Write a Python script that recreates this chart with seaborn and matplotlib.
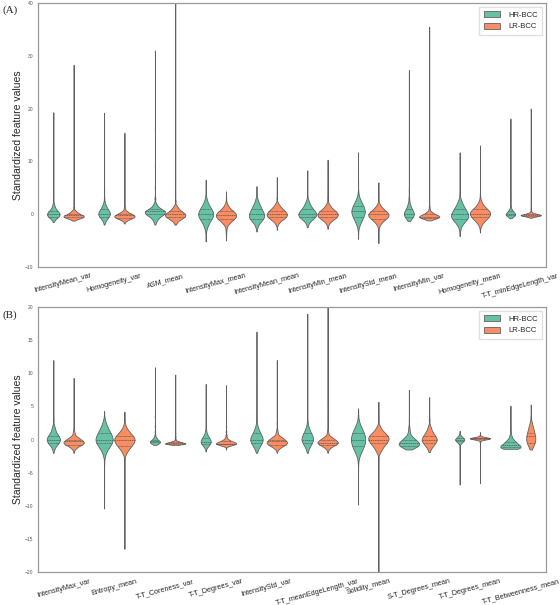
import numpy as np
import pandas as pd
import matplotlib
matplotlib.use("Agg")
import matplotlib.pyplot as plt
import seaborn as sns

# Panel (A) features
A_FEATURES = ["IntensityMean_var", "Homogeneity_var", "ASM_mean", "IntensityMax_mean",
              "IntensityMean_mean", "IntensityMin_mean", "IntensityStd_mean",
              "IntensityMin_var", "Homogeneity_mean", "T-T_minEdgeLength_var"]

# Panel (B) features
B_FEATURES = ["IntensityMax_var", "Entropy_mean", "T-T_Coreness_var", "T-T_Degrees_var",
              "IntensityStd_var", "T-T_meanEdgeLength_var", "Solidity_mean",
              "S-T_Degrees_mean", "T-T_Degrees_mean", "T-T_Betweenness_mean"]

GROUPS = ["HR-BCC", "LR-BCC"]

# standardized values (binned), with how many samples sit in each bin
A_HR_VALUES = [
    [-1.5, -1, -0.5, 0, 0.5, 1, 1.5, 2, 3, 4.5, 7, 11, 19.3],
    [-2, -1.5, -1, -0.5, 0, 0.5, 1, 1.5, 2, 3, 4.5, 7, 11, 19.2],
    [-2, -1.5, -1, -0.5, 0, 0.5, 1, 1.5, 2, 3, 5, 9, 16, 31],
    [-5.2, -4, -3, -2.5, -2, -1.5, -1, -0.5, 0, 0.5, 1, 1.5, 2, 2.5, 3, 4, 5, 6.5],
    [-3.3, -2.5, -2, -1.5, -1, -0.5, 0, 0.5, 1, 1.5, 2, 2.5, 3, 4, 5.3],
    [-2.5, -2, -1.5, -1, -0.5, 0, 0.5, 1, 1.5, 2, 2.5, 3.5, 5, 8.3],
    [-4.7, -3.5, -2.5, -2, -1.5, -1, -0.5, 0, 0.5, 1, 1.5, 2, 2.5, 3, 4, 6, 8.5, 11.7],
    [-1.3, -1, -0.5, 0, 0.5, 1, 1.5, 2, 3, 4.5, 7, 11, 17, 27.3],
    [-4.2, -3, -2.5, -2, -1.5, -1, -0.5, 0, 0.5, 1, 1.5, 2, 2.5, 3.5, 5, 8, 11.7],
    [-0.8, -0.5, -0.25, 0, 0.25, 0.5, 0.75, 1, 1.5, 2.5, 4, 6, 9, 13, 18.1],
]
A_HR_COUNTS = [
    [6, 32, 88, 112, 80, 40, 20, 12, 6, 3, 1, 1, 1],
    [3, 12, 32, 72, 96, 80, 48, 28, 16, 6, 3, 1, 1, 1],
    [3, 12, 24, 48, 88, 100, 56, 24, 12, 6, 2, 1, 1, 1],
    [1, 2, 6, 12, 20, 32, 48, 64, 72, 64, 48, 32, 20, 12, 6, 3, 2, 1],
    [1, 6, 12, 28, 56, 72, 64, 52, 40, 32, 20, 12, 6, 2, 1],
    [2, 6, 16, 40, 72, 80, 64, 44, 28, 20, 12, 4, 2, 1],
    [1, 2, 6, 16, 24, 36, 48, 60, 64, 60, 48, 36, 24, 16, 6, 2, 1, 1],
    [6, 24, 64, 80, 64, 40, 24, 16, 10, 5, 2, 1, 1, 1],
    [1, 3, 8, 16, 32, 56, 72, 64, 52, 40, 28, 20, 12, 5, 2, 1, 1],
    [12, 32, 56, 64, 48, 32, 20, 14, 10, 6, 3, 2, 1, 1, 1],
]
A_LR_VALUES = [
    [-1.25, -1, -0.75, -0.5, -0.25, 0, 0.25, 0.5, 0.75, 1.25, 2, 3.5, 6, 10, 16, 28.3],
    [-1.8, -1.25, -1, -0.75, -0.5, -0.25, 0, 0.25, 0.5, 1, 1.5, 2.5, 4, 7, 10, 15.4],
    [-2, -1.5, -1, -0.5, 0, 0.5, 1, 1.5, 2.5, 4, 8, 15, 25, 44],
    [-5, -4, -3, -2, -1.5, -1, -0.5, 0, 0.5, 1, 1.5, 2, 3, 4.3],
    [-3, -2, -1.5, -1, -0.5, 0, 0.5, 1, 1.5, 2, 3, 4, 5.5, 7],
    [-2.8, -2, -1.5, -1, -0.5, 0, 0.5, 1, 1.5, 2, 3, 5, 7.5, 10.3],
    [-5.5, -4, -3, -2, -1.5, -1, -0.5, 0, 0.5, 1, 1.5, 2, 3, 4.5, 6],
    [-1.2, -1, -0.75, -0.5, -0.25, 0, 0.25, 0.5, 1, 1.5, 2.5, 4, 7, 12, 20, 35.5],
    [-3.5, -2.5, -2, -1.5, -1, -0.5, 0, 0.5, 1, 1.5, 2, 2.5, 3.5, 5, 8, 13],
    [-0.7, -0.5, -0.375, -0.25, -0.125, 0, 0.125, 0.25, 0.5, 1, 2, 4, 8, 13, 20],
]
A_LR_COUNTS = [
    [8, 24, 56, 80, 72, 48, 32, 20, 12, 6, 3, 2, 1, 1, 1, 1],
    [2, 16, 32, 56, 72, 72, 48, 32, 20, 10, 5, 2, 1, 1, 1, 1],
    [6, 16, 48, 88, 96, 56, 32, 16, 5, 2, 1, 1, 1, 1],
    [1, 2, 6, 16, 32, 56, 80, 80, 56, 32, 16, 6, 2, 1],
    [1, 8, 20, 48, 72, 80, 64, 44, 24, 12, 4, 2, 1, 1],
    [1, 8, 20, 48, 72, 80, 64, 40, 20, 10, 4, 1, 1, 1],
    [1, 2, 4, 12, 24, 48, 72, 80, 56, 32, 16, 6, 2, 1, 1],
    [8, 24, 64, 88, 64, 40, 24, 16, 8, 4, 2, 1, 1, 1, 1, 1],
    [1, 3, 12, 24, 44, 64, 76, 72, 48, 28, 16, 8, 3, 1, 1, 1],
    [8, 24, 48, 72, 64, 40, 24, 16, 8, 4, 2, 1, 1, 1, 1],
]

B_HR_VALUES = [
    [-2, -1.5, -1, -0.5, 0, 0.5, 1, 1.5, 2, 3, 4.5, 6.5, 9, 12],
    [-10.4, -7, -5, -3.5, -2.5, -2, -1.5, -1, -0.5, 0, 0.5, 1, 1.5, 2, 2.5, 3, 4.3],
    [-0.8, -0.6, -0.4, -0.2, 0, 0.2, 0.4, 0.7, 1.2, 2, 3.5, 5.5, 8, 10.9],
    [-1.8, -1.2, -0.9, -0.6, -0.3, 0, 0.3, 0.6, 1, 1.5, 2.5, 4, 6, 8.4],
    [-2, -1.5, -1, -0.5, 0, 0.5, 1, 1.5, 2, 3, 4.5, 7, 11, 16.3],
    [-2, -1.5, -1, -0.5, 0, 0.5, 1, 1.5, 2, 3, 5, 8, 13, 19],
    [-9.8, -7, -5, -3.5, -2.5, -2, -1.5, -1, -0.5, 0, 0.5, 1, 1.5, 2, 2.5, 3.5, 4.7],
    [-1.5, -1.25, -1, -0.75, -0.5, -0.25, 0, 0.25, 0.5, 1, 1.5, 2, 3, 4.5, 7.5],
    [-6.8, -5, -3.5, -2.5, -1.5, -1, -0.6, -0.4, -0.2, 0, 0.2, 0.4, 0.6, 0.9, 1.3],
    [-1.4, -1.2, -1, -0.8, -0.6, -0.4, -0.2, 0, 0.3, 0.7, 1.2, 2, 3, 4, 5.1],
]
B_HR_COUNTS = [
    [3, 12, 32, 72, 88, 72, 40, 24, 16, 6, 3, 1, 1, 1],
    [1, 1, 1, 2, 6, 12, 24, 40, 56, 64, 56, 44, 32, 20, 12, 6, 1],
    [12, 32, 48, 40, 24, 16, 10, 6, 4, 3, 2, 1, 1, 1],
    [2, 12, 24, 40, 48, 40, 28, 20, 12, 6, 3, 1, 1, 1],
    [3, 16, 36, 64, 80, 64, 40, 24, 14, 6, 3, 1, 1, 1],
    [3, 12, 28, 56, 72, 64, 40, 24, 14, 6, 2, 1, 1, 1],
    [1, 1, 1, 3, 10, 20, 32, 44, 52, 56, 52, 44, 32, 20, 10, 3, 1],
    [12, 32, 56, 64, 60, 48, 36, 28, 20, 14, 8, 5, 2, 1, 1],
    [1, 1, 1, 1, 2, 4, 12, 24, 36, 44, 36, 24, 12, 6, 2],
    [40, 56, 48, 40, 32, 24, 20, 16, 12, 8, 5, 3, 1, 1, 1],
]
B_LR_VALUES = [
    [-2, -1.5, -1.25, -1, -0.75, -0.5, -0.25, 0, 0.25, 0.5, 1, 1.5, 2.5, 4, 6.5, 9.3],
    [-16.5, -12, -8, -5, -3, -2, -1.5, -1, -0.5, 0, 0.5, 1, 1.5, 2, 3, 4.2],
    [-0.8, -0.7, -0.6, -0.5, -0.4, -0.3, -0.2, 0, 0.4, 1, 2, 4, 7, 9.8],
    [-1.5, -1, -0.8, -0.6, -0.4, -0.2, 0, 0.3, 0.7, 1.2, 2, 3.5, 5.5, 8.2],
    [-2, -1.5, -1.25, -1, -0.75, -0.5, -0.25, 0, 0.25, 0.5, 1, 1.5, 2.5, 4, 7, 12],
    [-2, -1.5, -1.25, -1, -0.75, -0.5, -0.25, 0, 0.25, 0.5, 1, 1.5, 3, 5, 9, 15, 23],
    [-23, -17, -12, -8, -5, -3, -2, -1.5, -1, -0.5, 0, 0.5, 1, 1.5, 2, 3, 4, 5.7],
    [-1.9, -1.5, -1, -0.5, 0, 0.5, 1, 1.5, 2, 3, 4.5, 6.4],
    [-6.6, -5, -3.5, -2, -1, -0.4, -0.1, 0, 0.1, 0.2, 0.3, 0.4, 0.5, 0.7, 1.1],
    [-1.5, -1, -0.5, 0, 0.5, 1, 1.5, 2, 2.5, 3.5, 5.3],
]
B_LR_COUNTS = [
    [2, 8, 16, 32, 56, 72, 64, 48, 32, 20, 12, 6, 3, 1, 1, 1],
    [1, 1, 1, 1, 4, 16, 28, 48, 68, 80, 68, 40, 20, 10, 3, 1],
    [16, 40, 56, 48, 32, 20, 12, 6, 4, 2, 1, 1, 1, 1],
    [2, 16, 48, 72, 56, 32, 20, 12, 6, 4, 2, 1, 1, 1],
    [2, 8, 20, 36, 56, 68, 60, 48, 36, 24, 14, 6, 3, 1, 1, 1],
    [2, 8, 16, 32, 56, 72, 64, 48, 32, 20, 10, 5, 2, 1, 1, 1, 1],
    [1, 1, 1, 1, 1, 3, 12, 24, 40, 60, 76, 72, 48, 24, 12, 4, 2, 1],
    [3, 12, 32, 56, 72, 56, 36, 20, 12, 5, 2, 1],
    [1, 1, 1, 1, 2, 4, 16, 32, 56, 64, 48, 24, 12, 4, 2],
    [8, 24, 40, 48, 44, 36, 28, 20, 12, 5, 1],
]

PALETTE = {"HR-BCC": "#66c2a5", "LR-BCC": "#fc8d62"}


def build_frame(features, hr_vals, hr_cnts, lr_vals, lr_cnts):
    rows = []
    for i, feat in enumerate(features):
        for grp, vals, cnts in [("HR-BCC", hr_vals[i], hr_cnts[i]),
                                ("LR-BCC", lr_vals[i], lr_cnts[i])]:
            for v in np.repeat(vals, cnts):
                rows.append((feat, grp, v))
    return pd.DataFrame(rows, columns=["feature", "group", "value"])


def iqr_bandwidth(kde):
    # bandwidth tied to the spread of the core, so long tails don't blur it
    x = kde.dataset.ravel()
    q1, q3 = np.percentile(x, [25, 75])
    return 0.3 * (q3 - q1) / x.std(ddof=1)


def draw_panel(ax, df, features, ylim, yticks):
    # one call per feature so the area scaling is done within each HR/LR pair
    for i, feat in enumerate(features):
        sns.violinplot(data=df[df["feature"] == feat], x="feature", y="value",
                       hue="group", order=features, hue_order=GROUPS, palette=PALETTE,
                       inner="quart", cut=0, gridsize=1500, bw_method=iqr_bandwidth,
                       density_norm="area", common_norm=True,
                       linewidth=0.6, linecolor="0.38", saturation=1,
                       inner_kws=dict(linewidth=0.45, color="0.3"),
                       legend=(i == 0), ax=ax)
    ax.set_xlim(-0.5, len(features) - 0.5)
    ax.set_ylim(*ylim)
    ax.set_yticks(yticks)
    ax.set_xlabel("")
    ax.set_ylabel("Standardized feature values", fontsize=7.5, labelpad=1)
    ax.tick_params(axis="y", labelsize=3.6, length=2, width=0.5, colors="0.35", pad=1.5)
    ax.tick_params(axis="x", labelsize=5.2, length=2, width=0.5, colors="0.35",
                   labelrotation=15, pad=2)
    for lab in ax.get_xticklabels():
        lab.set_color("0.15")
    for sp in ax.spines.values():
        sp.set_visible(True)
        sp.set_color("0.6")
        sp.set_linewidth(0.9)
    handles, labels = ax.get_legend_handles_labels()
    ax.legend(handles[:2], labels[:2], loc="upper right", fontsize=5.5, frameon=True,
              edgecolor="0.85", fancybox=False, handlelength=2.2, handleheight=0.8,
              borderpad=0.6, labelspacing=0.5, handletextpad=1.0)


def main():
    sns.set_theme(style="white")
    plt.rcParams["font.family"] = ["Liberation Sans", "DejaVu Sans"]

    fig = plt.figure(figsize=(5.6, 6.05), dpi=100)
    ax_a = fig.add_axes([0.068, 0.559, 0.907, 0.436])
    ax_b = fig.add_axes([0.068, 0.0545, 0.907, 0.438])

    df_a = build_frame(A_FEATURES, A_HR_VALUES, A_HR_COUNTS, A_LR_VALUES, A_LR_COUNTS)
    df_b = build_frame(B_FEATURES, B_HR_VALUES, B_HR_COUNTS, B_LR_VALUES, B_LR_COUNTS)

    draw_panel(ax_a, df_a, A_FEATURES, (-10, 40), [-10, 0, 10, 20, 30, 40])
    draw_panel(ax_b, df_b, B_FEATURES, (-20, 20), [-20, -15, -10, -5, 0, 5, 10, 15, 20])

    fig.text(0.004, 1 - 10.5 / 605, "(A)", family="Liberation Serif", fontsize=8, va="center")
    fig.text(0.004, 1 - 315 / 605, "(B)", family="Liberation Serif", fontsize=8, va="center")

    fig.savefig("out.png", dpi=100)
    plt.close(fig)


if __name__ == "__main__":
    main()
